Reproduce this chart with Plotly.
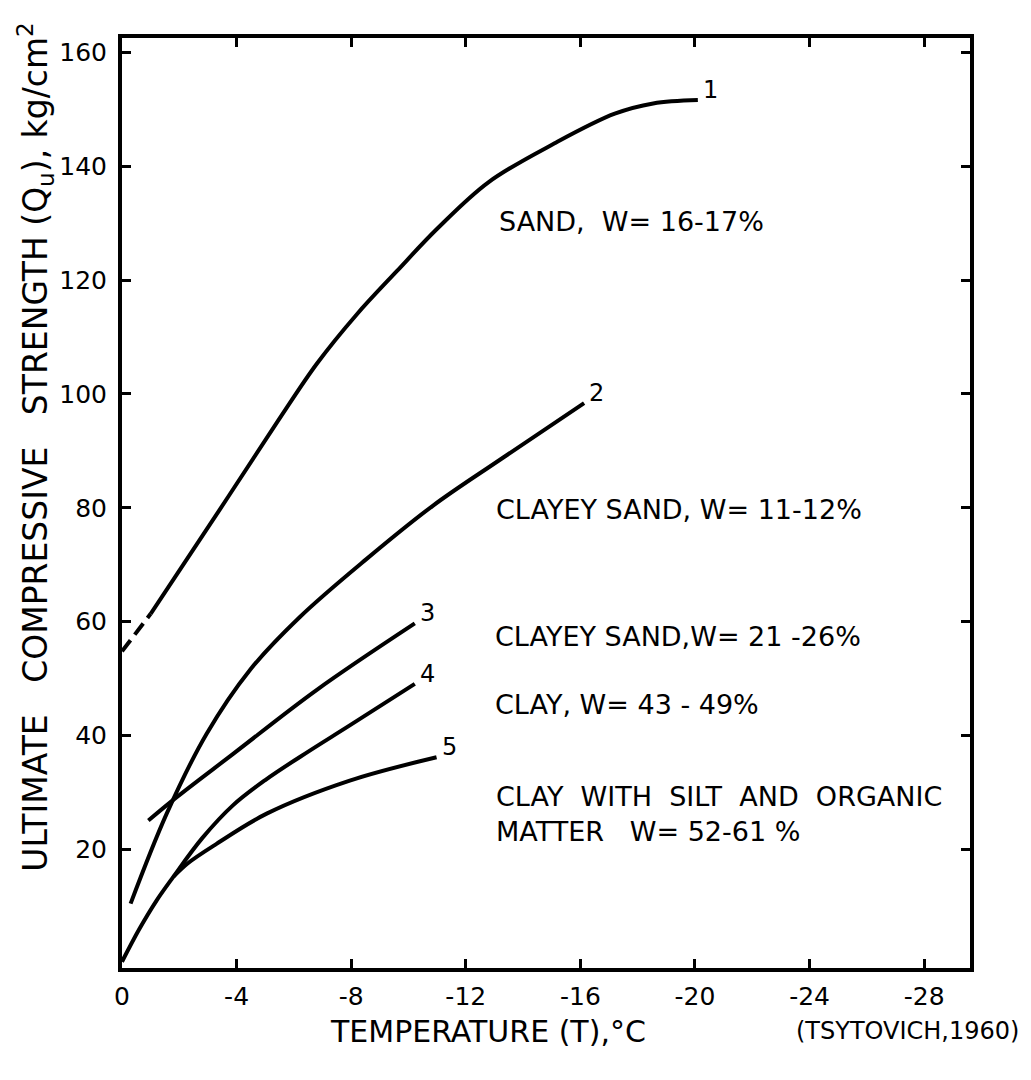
import plotly.graph_objects as go

# ---- data ----
c1_dash_x = [0.0, -1.0]
c1_dash_y = [54.8, 61.4]
c1_x = [-1.0, -3.4, -5.45, -6.8, -8.2, -9.6, -11.0, -12.8, -15.1, -17.2, -18.54, -20.1]
c1_y = [61.4, 79.6, 95.3, 105.3, 114.0, 121.6, 129.0, 137.2, 144.0, 149.2, 151.0, 151.6]

c2_x = [-0.3, -1.56, -2.95, -4.46, -6.2, -8.53, -10.86, -13.18, -16.13]
c2_y = [10.5, 26.3, 40.3, 51.5, 60.8, 71.0, 80.4, 88.4, 98.4]

c3_x = [-0.92, -1.91, -3.88, -6.79, -10.22]
c3_y = [25.1, 29.2, 36.8, 48.0, 59.7]

c4_x = [0.0, -0.6, -1.2, -1.79, -2.8, -3.88, -5.0, -6.5, -7.95, -10.22]
c4_y = [0.3, 6.0, 11.0, 15.2, 22.0, 27.8, 32.2, 37.2, 41.8, 49.1]

c5_x = [-1.79, -2.3, -3.3, -5.05, -7.95, -10.98]
c5_y = [15.2, 17.6, 21.0, 26.3, 32.1, 36.2]

curve_numbers = ["1", "2", "3", "4", "5"]
x_ticks = [0, -4, -8, -12, -16, -20, -24, -28]
x_tick_text = ["0", "-4", "-8", "-12", "-16", "-20", "-24", "-28"]
y_ticks = [20, 40, 60, 80, 100, 120, 140, 160]
y_tick_text = ["20", "40", "60", "80", "100", "120", "140", "160"]

descriptions = [
    "SAND,  W= 16-17%",
    "CLAYEY SAND, W= 11-12%",
    "CLAYEY SAND,W= 21 -26%",
    "CLAY, W= 43 - 49%",
    "CLAY  WITH  SILT  AND  ORGANIC<br>MATTER   W= 52-61 %",
]

FONT = "DejaVu Sans"
LW = 4

fig = go.Figure()
line = dict(color="black", width=LW, shape="spline", smoothing=1.0)
fig.add_trace(go.Scatter(x=c1_dash_x, y=c1_dash_y, mode="lines",
                         line=dict(color="black", width=LW, dash="14px,7px")))
for xs, ys in [(c1_x, c1_y), (c2_x, c2_y), (c3_x, c3_y), (c4_x, c4_y), (c5_x, c5_y)]:
    fig.add_trace(go.Scatter(x=xs, y=ys, mode="lines", line=line))

# curve number labels near curve ends
ends = [(c1_x[-1], c1_y[-1]), (c2_x[-1], c2_y[-1]), (c3_x[-1], c3_y[-1]),
        (c4_x[-1], c4_y[-1]), (c5_x[-1], c5_y[-1])]
for (ex, ey), num in zip(ends, curve_numbers):
    fig.add_annotation(x=ex, y=ey, text=num, showarrow=False, xanchor="left",
                       yanchor="bottom", xshift=3, yshift=-6,
                       font=dict(family=FONT, size=24, color="black"))

desc_pos = [(-13.08, 130.2), (-13.0, 79.7), (-12.94, 57.4), (-12.94, 45.5), (-13.0, 26.3)]
for (dx, dy), txt in zip(desc_pos, descriptions):
    fig.add_annotation(x=dx, y=dy, text=txt, showarrow=False, xanchor="left",
                       yanchor="middle", align="left",
                       font=dict(family=FONT, size=27, color="black"))

# axis titles
fig.add_annotation(xref="paper", yref="paper", x=0.432, y=-0.068,
                   text="TEMPERATURE (T),°C", showarrow=False,
                   xanchor="center", yanchor="middle",
                   font=dict(family=FONT, size=30, color="black"))
fig.add_annotation(xref="paper", yref="paper", x=0.926, y=-0.068,
                   text="(TSYTOVICH,1960)", showarrow=False,
                   xanchor="center", yanchor="middle",
                   font=dict(family=FONT, size=24, color="black"))
fig.add_annotation(xref="paper", yref="paper", x=-0.102, y=0.56,
                   text="ULTIMATE   COMPRESSIVE   STRENGTH (Q<sub>u</sub>), kg/cm<sup>2</sup>",
                   textangle=-90, showarrow=False,
                   xanchor="center", yanchor="middle",
                   font=dict(family=FONT, size=33, color="black"))

axis_common = dict(showline=True, linecolor="black", linewidth=LW, mirror="ticks",
                   ticks="inside", ticklen=9, tickwidth=3, tickcolor="black",
                   showgrid=False, zeroline=False,
                   tickfont=dict(family=FONT, size=25, color="black"))
fig.update_xaxes(range=[0, -29.6], tickmode="array", tickvals=x_ticks,
                 ticktext=x_tick_text, ticklabelstandoff=3, **axis_common)
fig.update_yaxes(range=[-0.8, 162.5], tickmode="array", tickvals=y_ticks,
                 ticktext=y_tick_text, ticklabelstandoff=6, **axis_common)

fig.update_layout(width=1031, height=1080, showlegend=False,
                  plot_bgcolor="white", paper_bgcolor="white",
                  margin=dict(l=122, r=61, t=38, b=112))

fig.write_html("out.html", config={"displayModeBar": False},
               post_script="document.body.style.margin='0px';")
